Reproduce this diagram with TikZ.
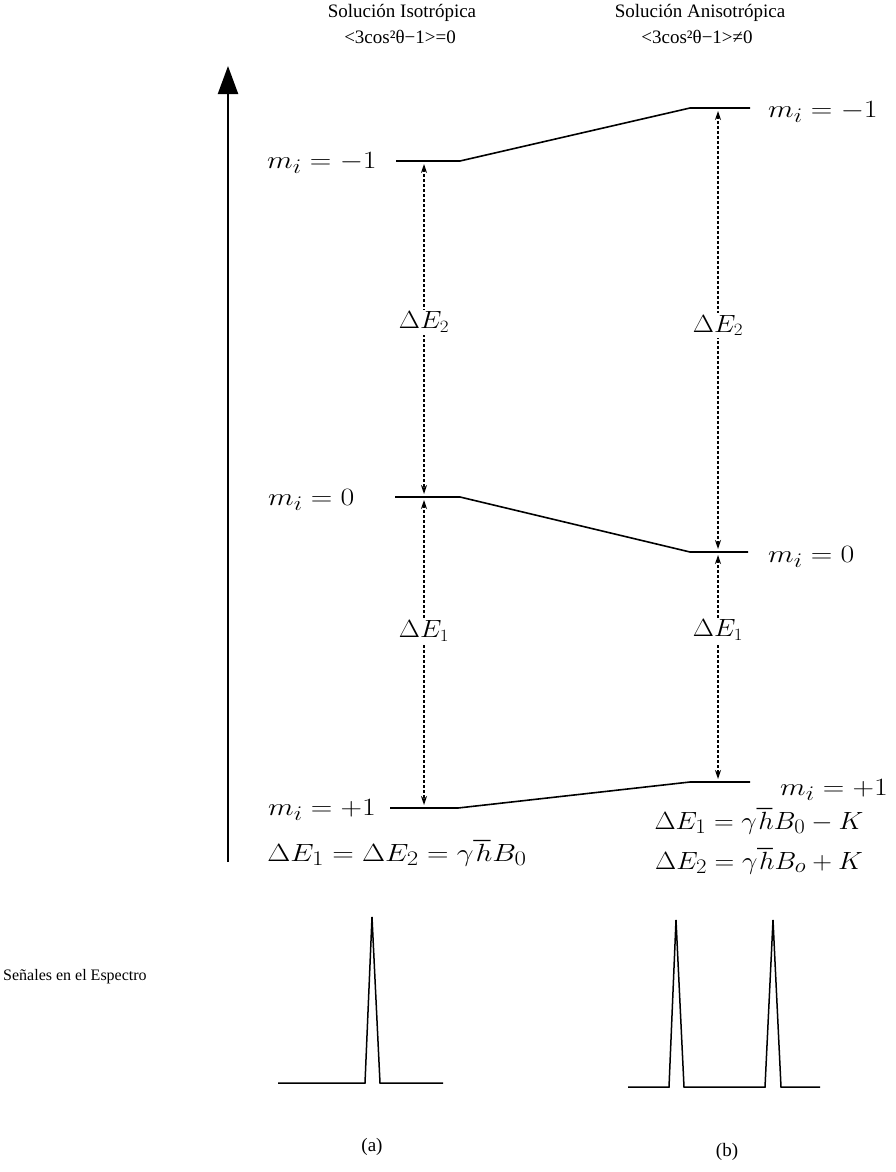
\documentclass[tikz,border=0pt]{standalone}
\usepackage{amsmath}
\usepackage{graphicx}
\usepackage{fontspec}
\setmainfont{Liberation Serif}
\usetikzlibrary{arrows.meta}
\newcommand{\widemath}[2][1.2]{\scalebox{#1}[1]{#2}}

\begin{document}
\begin{tikzpicture}[x=1pt,y=-1pt,
  level/.style={line width=1.6pt},
  trans/.style={line width=1.4pt,densely dashed,
    {Stealth[length=9pt,width=6pt]}-{Stealth[length=9pt,width=6pt]},
    shorten <=3pt,shorten >=3pt},
  mlab/.style={font=\fontsize{28}{30}\selectfont,inner sep=0pt},
  elab/.style={font=\fontsize{24}{26}\selectfont,fill=white,inner sep=2pt},
  eqn/.style={font=\fontsize{28}{30}\selectfont,inner sep=0pt},
  head/.style={font=\fontsize{19}{21}\selectfont,inner sep=0pt},
  spec/.style={line width=1.5pt,line join=miter}]
\useasboundingbox (0,0) rectangle (895,1172);

% energy axis
\coordinate (axB) at (228,862);
\coordinate (axT) at (228,66);
\draw[line width=2.2pt,-{Triangle[length=28pt,width=20pt]}] (axB) -- (axT);

% titles
\node[head] (tIso) at (402,13) {Solución Isotrópica};
\node[head] (cIso) at (400,37) {<3cos²θ−1>=0};
\node[head] (tAni) at (700,13) {Solución Anisotrópica};
\node[head] (cAni) at (697,37) {<3cos²θ−1>≠0};

% levels, (a) left and (b) right
\coordinate (aM1L) at (396,161); \coordinate (aM1R) at (460,161);
\coordinate (bM1L) at (690,108); \coordinate (bM1R) at (750,108);
\coordinate (aZ0L) at (395,497); \coordinate (aZ0R) at (460,497);
\coordinate (bZ0L) at (690,552); \coordinate (bZ0R) at (748,552);
\coordinate (aP1L) at (390,808); \coordinate (aP1R) at (458,808);
\coordinate (bP1L) at (690,782); \coordinate (bP1R) at (750,782);
\draw[level] (aM1L) -- (aM1R) -- (bM1L) -- (bM1R);
\draw[level] (aZ0L) -- (aZ0R) -- (bZ0L) -- (bZ0R);
\draw[level] (aP1L) -- (aP1R) -- (bP1L) -- (bP1R);

% level labels
\node[mlab,anchor=base west] (laM1) at (267,168) {\widemath{$m_i = -1$}};
\node[mlab,anchor=base west] (lbM1) at (768,117) {\widemath{$m_i = -1$}};
\node[mlab,anchor=base west] (laZ0) at (268,505) {\widemath{$m_i = 0$}};
\node[mlab,anchor=base west] (lbZ0) at (768,562) {\widemath{$m_i = 0$}};
\node[mlab,anchor=base west] (laP1) at (268,815) {\widemath{$m_i = +1$}};
\node[mlab,anchor=base west] (lbP1) at (780,795) {\widemath{$m_i = +1$}};

% transitions
\coordinate (taM1) at (424,161); \coordinate (taZ0) at (424,497);
\coordinate (taP1) at (424,808);
\coordinate (tbM1) at (718,108); \coordinate (tbZ0) at (718,552);
\coordinate (tbP1) at (718,782);
\draw[trans] (taM1) -- node[elab,pos=0.48] (dEa2) {\widemath[1.1]{$\Delta E_2$}} (taZ0);
\draw[trans] (taZ0) -- node[elab,pos=0.43] (dEa1) {\widemath[1.1]{$\Delta E_1$}} (taP1);
\draw[trans] (tbM1) -- node[elab,pos=0.49] (dEb2) {\widemath[1.1]{$\Delta E_2$}} (tbZ0);
\draw[trans] (tbZ0) -- node[elab,pos=0.34] (dEb1) {\widemath[1.1]{$\Delta E_1$}} (tbP1);

% splittings
\node[eqn] (eqA) at (397,853) {\widemath{$\Delta E_1 = \Delta E_2 = \gamma\hbar B_0$}};
\node[eqn] (eqB1) at (759,821) {\widemath[1.1]{$\Delta E_1 = \gamma\hbar B_0 - K$}};
\node[eqn] (eqB2) at (759,861) {\widemath[1.1]{$\Delta E_2 = \gamma\hbar B_o + K$}};

% spectra
\node[head,anchor=west,font=\fontsize{16}{18}\selectfont] (sig) at (3,977) {Señales en el Espectro};
\draw[spec] (278,1083) -- (365,1083) -- (372,917) -- (380,1083) -- (443,1083);
\draw[spec] (628,1087) -- (669,1087) -- (676,920) -- (684,1087)
  -- (765,1087) -- (773,920) -- (781,1087) -- (820,1087);
\node[head] (capA) at (372,1147) {(a)};
\node[head] (capB) at (727,1152) {(b)};
\end{tikzpicture}
\end{document}
